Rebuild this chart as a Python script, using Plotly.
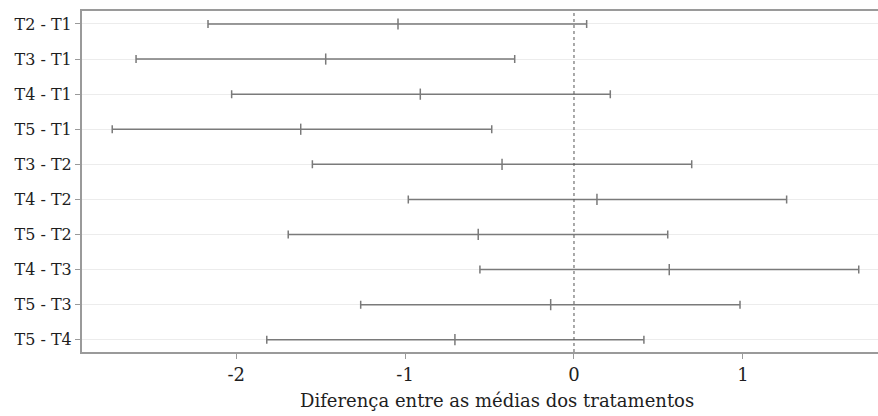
import plotly.graph_objects as go

# Tukey-style pairwise comparisons: estimate with 95% interval
comparisons = ["T2 - T1", "T3 - T1", "T4 - T1", "T5 - T1", "T3 - T2",
               "T4 - T2", "T5 - T2", "T4 - T3", "T5 - T3", "T5 - T4"]
diff_est = [-1.042, -1.470, -0.910, -1.618, -0.426,
            0.136, -0.567, 0.564, -0.138, -0.705]
ci_lower = [-2.167, -2.593, -2.027, -2.734, -1.549,
            -0.981, -1.692, -0.557, -1.263, -1.819]
ci_upper = [0.075, -0.351, 0.215, -0.487, 0.697,
            1.259, 0.555, 1.686, 0.983, 0.414]

x_tick_vals = [-2, -1, 0, 1]
x_tick_text = ["-2", "-1", "0", "1"]
ref_value = 0

plus = [u - c for u, c in zip(ci_upper, diff_est)]
minus = [c - l for c, l in zip(diff_est, ci_lower)]

bar_color = "#7a7a7a"
axis_color = "#9a9a9a"
text_color = "#1e1e1e"
font_family = "DejaVu Serif"

fig = go.Figure()
fig.add_trace(go.Scatter(
    x=diff_est,
    y=comparisons,
    mode="markers",
    marker=dict(symbol="line-ns", size=8, color=bar_color,
                line=dict(color=bar_color, width=1.5)),
    error_x=dict(type="data", symmetric=False, array=plus, arrayminus=minus,
                 color=bar_color, thickness=1.5, width=4),
    showlegend=False,
    hoverinfo="skip",
))

fig.add_shape(type="line", xref="x", yref="paper",
              x0=ref_value, x1=ref_value, y0=0, y1=1,
              line=dict(color="#555555", width=1, dash="dot"))

fig.add_annotation(
    text="Diferença entre as médias dos tratamentos",
    xref="paper", yref="paper", x=0.521, y=-0.143,
    xanchor="center", yanchor="middle", showarrow=False,
    font=dict(family=font_family, size=18, color=text_color),
)

fig.update_layout(
    width=878, height=416,
    margin=dict(l=82, r=0, t=11, b=64),
    paper_bgcolor="white", plot_bgcolor="white",
    font=dict(family=font_family, size=16, color=text_color),
    xaxis=dict(
        range=[-2.913, 1.800],
        tickmode="array", tickvals=x_tick_vals, ticktext=x_tick_text,
        ticks="outside", ticklen=5, tickwidth=1, tickcolor=axis_color,
        showgrid=False, zeroline=False,
        showline=True, linecolor=axis_color, linewidth=2, mirror=True,
        tickfont=dict(family=font_family, size=18),
    ),
    yaxis=dict(
        type="category", categoryorder="array", categoryarray=comparisons,
        range=[9.35, -0.37],
        ticks="outside", ticklen=5, tickwidth=1, tickcolor=axis_color,
        showgrid=True, gridcolor="#ececec", gridwidth=1,
        zeroline=False,
        showline=True, linecolor=axis_color, linewidth=2,
        tickfont=dict(family=font_family, size=16),
    ),
)

fig.write_html("out.html")
